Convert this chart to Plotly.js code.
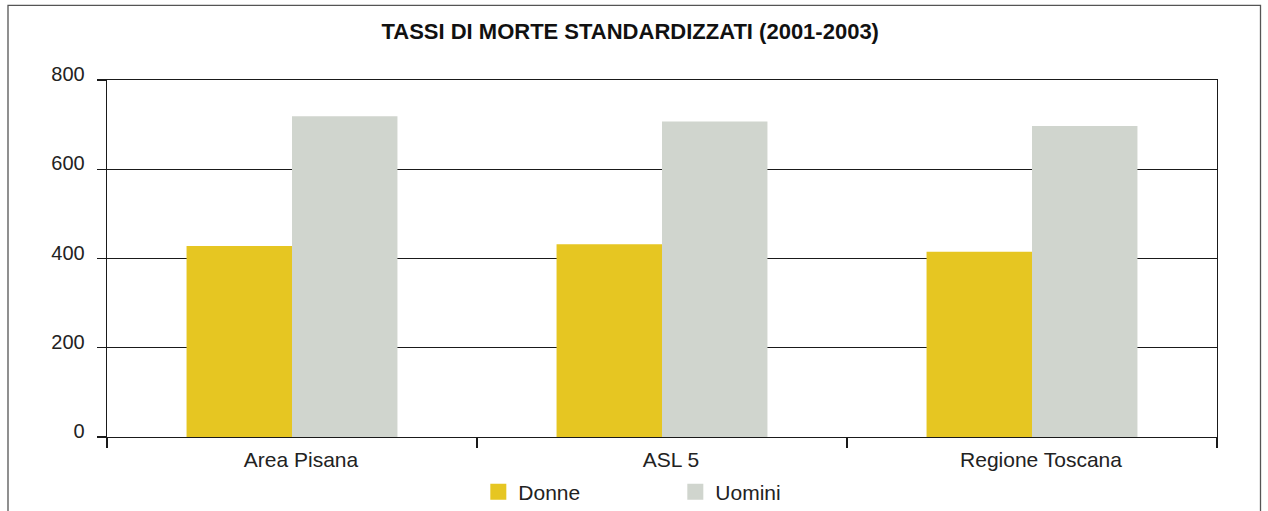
<!DOCTYPE html>
<html>
<head>
<meta charset="utf-8">
<script src="https://cdn.plot.ly/plotly-3.0.1.min.js"></script>
<style>
  html, body { margin: 0; padding: 0; background: #ffffff; }
  #chart { width: 1268px; height: 511px; }
</style>
</head>
<body>
<div id="chart"></div>
<script>
// ---- data ----
const categories = ["Area Pisana", "ASL 5", "Regione Toscana"];
const donne = [428, 432, 415];
const uomini = [719, 707, 697];
const seriesNames = ["Donne", "Uomini"];
const yTicks = [0, 200, 400, 600, 800];
const titleText = "TASSI DI MORTE STANDARDIZZATI (2001-2003)";

const FONT = "'Liberation Sans', Arial, Helvetica, sans-serif";
const YELLOW = "#E6C622";
const GREY = "#D0D5CE";

const traces = [
  { type: "bar", name: seriesNames[0], x: categories, y: donne,
    marker: { color: YELLOW, line: { width: 0 } }, showlegend: false, hoverinfo: "x+y+name" },
  { type: "bar", name: seriesNames[1], x: categories, y: uomini,
    marker: { color: GREY, line: { width: 0 } }, showlegend: false, hoverinfo: "x+y+name" },
  // legend entries with larger square swatches
  { type: "scatter", mode: "markers", name: seriesNames[0], x: [null], y: [null],
    marker: { symbol: "square", size: 18, color: YELLOW }, hoverinfo: "skip" },
  { type: "scatter", mode: "markers", name: seriesNames[1], x: [null], y: [null],
    marker: { symbol: "square", size: 18, color: GREY }, hoverinfo: "skip" }
];

const layout = {
  width: 1268, height: 511,
  paper_bgcolor: "#ffffff", plot_bgcolor: "#ffffff",
  margin: { l: 107, r: 51, t: 80, b: 74.3, pad: 0, autoexpand: false },
  font: { family: FONT, size: 20, color: "#222222" },
  title: {
    text: "<b>" + titleText + "</b>",
    font: { family: FONT, size: 22, color: "#111111" },
    xref: "container", x: 0.497, xanchor: "center",
    yref: "container", y: 1 - 31 / 511, yanchor: "middle"
  },
  barmode: "group", bargap: 0.43, bargroupgap: 0,
  xaxis: {
    type: "category", automargin: false,
    showline: true, linecolor: "#1a1a1a", linewidth: 1.3, mirror: true,
    ticks: "outside", tickson: "boundaries", ticklen: 10, tickcolor: "#1a1a1a", tickwidth: 1.3,
    ticklabelstandoff: 3, ticklabelshift: 9,
    showgrid: false, zeroline: false,
    tickfont: { family: FONT, size: 21, color: "#222222" },
    fixedrange: true
  },
  yaxis: {
    range: [0, 800], tickvals: yTicks, ticktext: yTicks.map(String), automargin: false,
    showline: true, linecolor: "#1a1a1a", linewidth: 1.3, mirror: true,
    ticks: "outside", ticklen: 9, tickcolor: "#1a1a1a", tickwidth: 1.3,
    ticklabelstandoff: 8, ticklabelshift: -6,
    showgrid: true, gridcolor: "#1a1a1a", gridwidth: 1.3,
    zeroline: false,
    tickfont: { family: FONT, size: 20, color: "#222222" },
    fixedrange: true
  },
  showlegend: true,
  legend: {
    orientation: "h",
    x: 0.512, xanchor: "center",
    y: -0.154, yanchor: "middle",
    font: { family: FONT, size: 21, color: "#222222" },
    entrywidth: 152, entrywidthmode: "pixels",
    bgcolor: "rgba(0,0,0,0)", borderwidth: 0,
    itemclick: false, itemdoubleclick: false
  },
  shapes: [
    { type: "rect", xref: "paper", yref: "paper",
      x0: (8 - 107) / 1110, x1: (1260.5 - 107) / 1110,
      y0: -0.25, y1: (436.7 - 5.5) / 356.7,
      line: { color: "#555555", width: 1.3 }, fillcolor: "rgba(0,0,0,0)", layer: "below" }
  ]
};

Plotly.newPlot("chart", traces, layout, { displayModeBar: false, staticPlot: true });
</script>
</body>
</html>
